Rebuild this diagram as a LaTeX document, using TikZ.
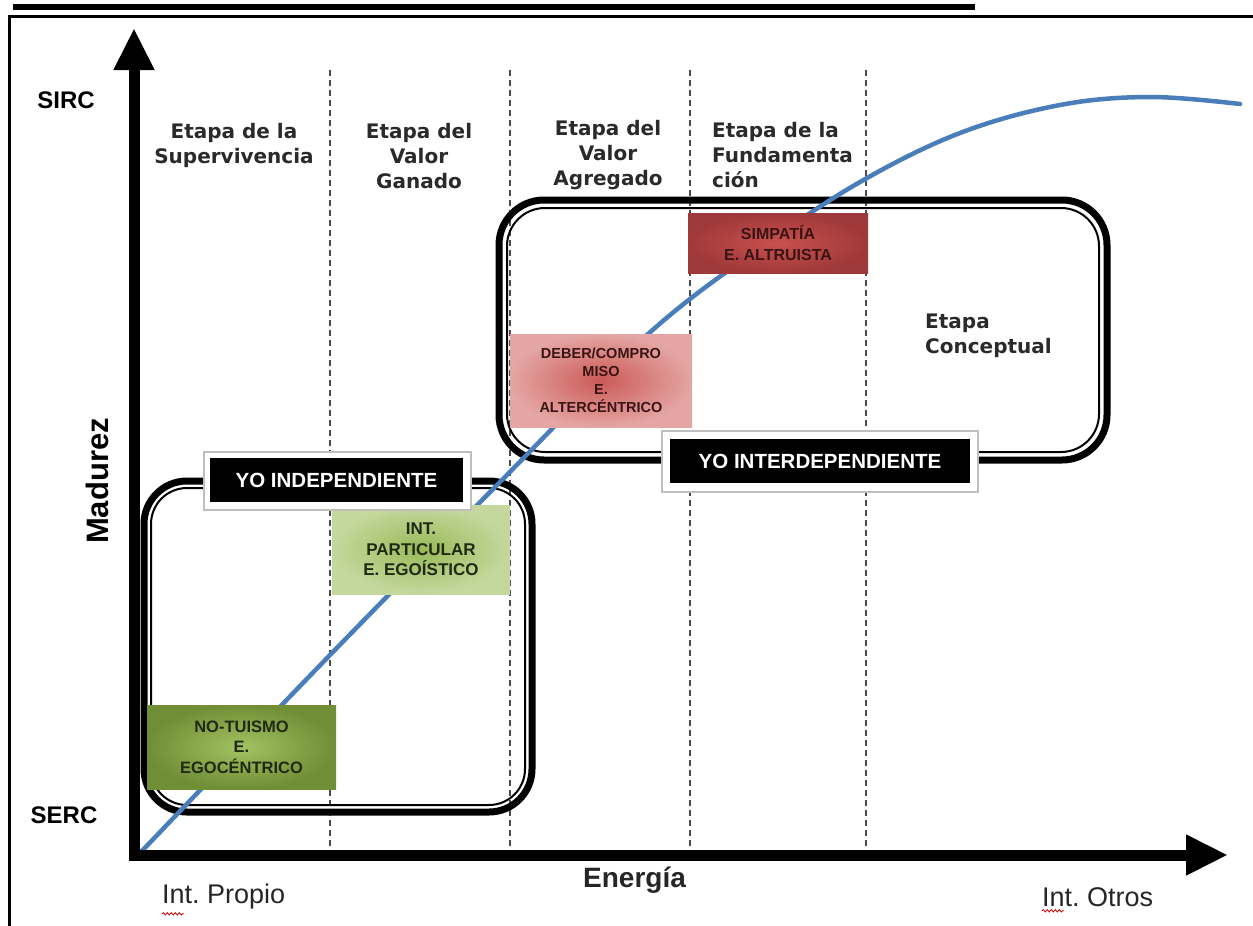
\documentclass[tikz,border=0pt]{standalone}
\usepackage{fontspec}
\setmainfont{Liberation Sans}
\newfontfamily\dv{DejaVu Sans}
\usetikzlibrary{arrows.meta,decorations.pathmorphing,calc}
\definecolor{curveblue}{HTML}{4A7EBB}
\definecolor{stagegray}{HTML}{2A2A2A}
\definecolor{dashgray}{HTML}{4A4A4A}
\definecolor{olive}{HTML}{6F8E36}
\definecolor{olivelight}{HTML}{A3C262}
\definecolor{lgreen}{HTML}{C4D89E}
\definecolor{mgreen}{HTML}{99BA58}
\definecolor{pinkred}{HTML}{E4A5A3}
\definecolor{midred}{HTML}{CB5A57}
\definecolor{darkred}{HTML}{A0393A}
\definecolor{brightred}{HTML}{C8514E}
\definecolor{greentext}{HTML}{1E2A12}
\definecolor{redtext}{HTML}{3A1414}
\begin{document}
\frenchspacing
\begin{tikzpicture}[x=1pt,y=-1pt,
  stage/.style={text=stagegray,font=\dv\bfseries\fontsize{20}{25}\selectfont,inner sep=0},
  stageline/.style={draw=dashgray,line width=2.4,dash pattern=on 6 off 4},
  outerframe/.style={line width=7},
  innerframe/.style={line width=2},
  cbox/.style={inner sep=0,align=center},
  ylabel/.style={fill=black,text=white,font=\bfseries\fontsize{20.5}{24}\selectfont,inner sep=0,minimum height=44},
  lframe/.style={fill=white,draw=black!25,line width=1.5},
  axislab/.style={text=black!85,font=\fontsize{27}{30}\selectfont,inner sep=0},
  bigaxis/.style={line width=11,-{Triangle[length=42pt,width=38pt]}},
  squig/.style={draw=red!80!black,line width=0.8,decorate,decoration={snake,amplitude=1.2,segment length=4}}
]
\useasboundingbox (0,0) rectangle (1253,926);
\fill[white] (0,0) rectangle (1253,926);

% top bar and frame
\draw[line width=6.5] (13,7) -- (975,7);
\draw[line width=3] (9.5,926) -- (9.5,16.5) -- (1253,16.5);

% stage dividers
\foreach \xx in {330,510,690,866} \draw[stageline] (\xx,70) -- (\xx,850);

% rounded double frames
\draw[outerframe,rounded corners=43] (144,481) rectangle (532,812);
\draw[innerframe,rounded corners=36] (151,488) rectangle (525,805);
\draw[outerframe,rounded corners=45] (499,200) rectangle (1107,460);
\draw[innerframe,rounded corners=38] (507,208) rectangle (1099,452);

% growth curve
\draw[curveblue,line width=4.5,line cap=round] plot[smooth,tension=0.6] coordinates
 {(140,853) (330,655) (500,482) (647,335) (760,248) (860,182) (960,133) (1060,105) (1150,97) (1240,104)};

% coloured boxes
\node[cbox,shade,inner color=olivelight,outer color=olive,minimum width=189,minimum height=84,text=greentext,font=\bfseries\fontsize{16.5}{20.5}\selectfont] (b1) at (241.5,747)
  {NO-TUISMO\\E.\\EGOC\'ENTRICO};
\node[cbox,shade,inner color=mgreen,outer color=lgreen,minimum width=178,minimum height=89,text=greentext,font=\bfseries\fontsize{17}{20.5}\selectfont] (b2) at (421,549.5)
  {INT.\\PARTICULAR\\E. EGO\'ISTICO};
\node[cbox,shade,inner color=midred,outer color=pinkred,minimum width=182,minimum height=93,text=redtext,font=\bfseries\fontsize{14.5}{18}\selectfont] (b3) at (601,380.5)
  {DEBER/COMPRO\\MISO\\E.\\ALTERC\'ENTRICO};
\node[cbox,shade,inner color=brightred,outer color=darkred,minimum width=180,minimum height=60,text=redtext,font=\bfseries\fontsize{16}{21.5}\selectfont] (b4) at (778,243)
  {SIMPAT\'IA\\E. ALTRUISTA};

% stage labels
\node[stage,align=center] (s1) at (234,145) {Etapa de la\\Supervivencia};
\node[stage,align=center] (s2) at (419,156) {Etapa del\\Valor\\Ganado};
\node[stage,align=center] (s3) at (608,155) {Etapa del\\Valor\\Agregado};
\node[stage,align=left,anchor=west] (s4) at (712,155) {Etapa de la\\Fundamenta\\ción};
\node[stage,align=left,anchor=west] (s5) at (925,336) {Etapa\\Conceptual};

% YO labels
\draw[lframe] (204,452) rectangle (471,510);
\node[ylabel,minimum width=253] (yi) at (336.5,480) {YO INDEPENDIENTE};
\draw[lframe] (662,431) rectangle (978,492);
\node[ylabel,minimum width=300] (yd) at (820,461) {YO INTERDEPENDIENTE};

% axes
\draw[bigaxis] (134,861) -- (134,28);
\draw[bigaxis] (128.5,855) -- (1228,855);

% axis labels
\node[font=\bfseries\fontsize{24}{26}\selectfont,inner sep=0] (sirc) at (66,100) {SIRC};
\node[font=\bfseries\fontsize{24}{26}\selectfont,inner sep=0] (serc) at (64,815) {SERC};
\node[font=\bfseries\fontsize{31}{33}\selectfont,inner sep=0,rotate=90] (mad) at (97,481) {Madurez};
\node[axislab,anchor=west] (ip) at (162,897) {Int. Propio};
\node[axislab,font=\bfseries\fontsize{28}{30}\selectfont,anchor=west] (en) at (583,880) {Energía};
\node[axislab,anchor=west] (io) at (1042,897) {Int. Otros};
\draw[squig] ([yshift=-4]ip.south west) -- ++(22,0);
\draw[squig] ([yshift=-4]io.south west) -- ++(22,0);
\end{tikzpicture}
\end{document}
